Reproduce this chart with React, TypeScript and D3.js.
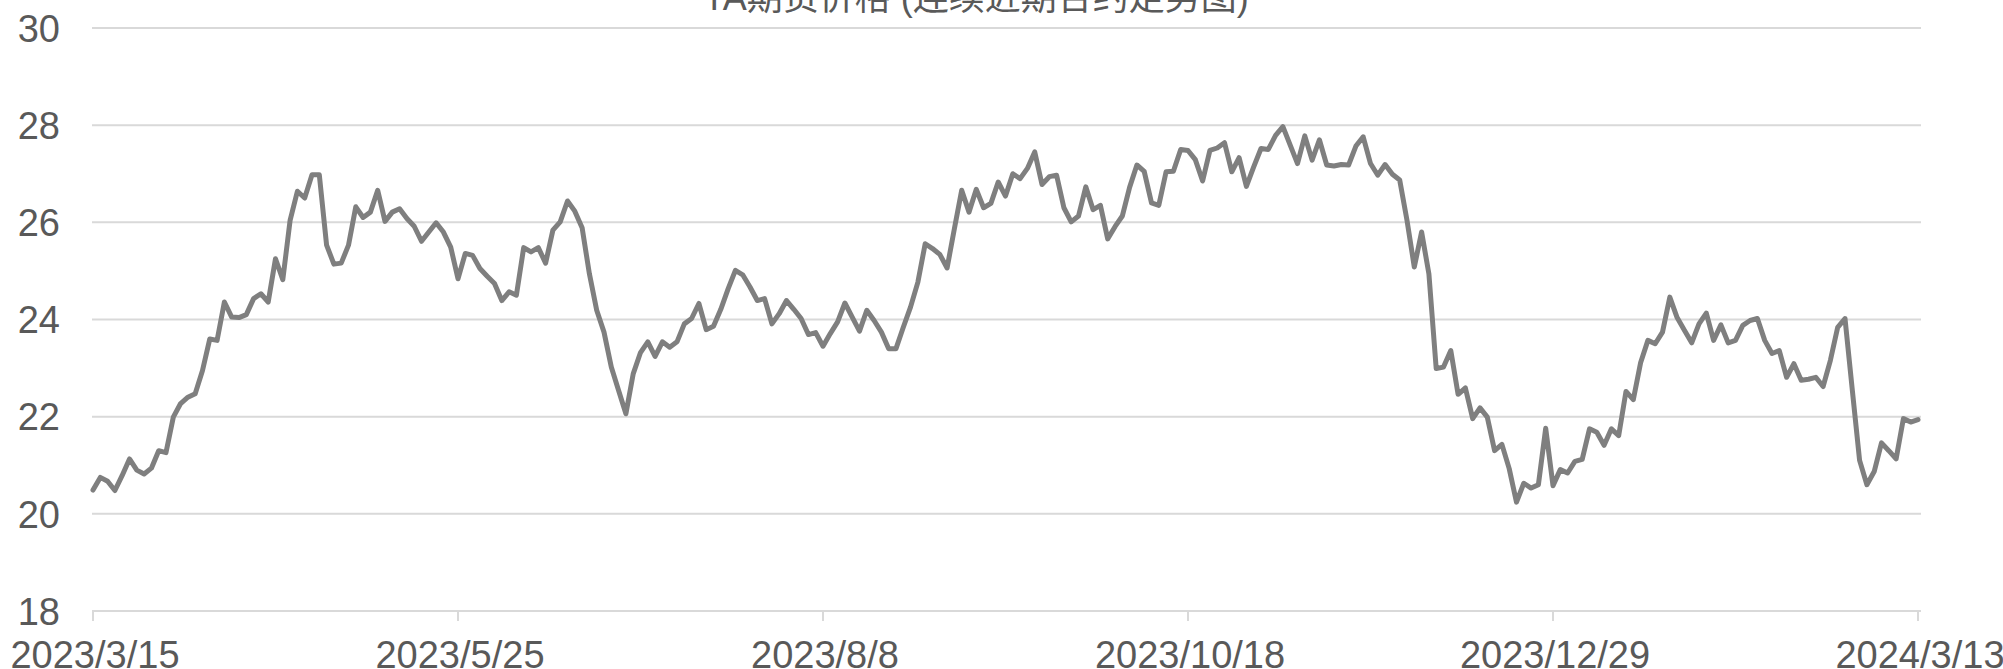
import React from "react";
import * as d3 from "d3";

const title = "TA期货价格 (连续近期合约走势图)";

const prices: number[] = [
  20.49, 20.75, 20.67, 20.48, 20.79, 21.13, 20.9, 20.82, 20.94, 21.3,
  21.26, 21.99, 22.27, 22.4, 22.47, 22.95, 23.6, 23.57, 24.36, 24.05,
  24.04, 24.1, 24.43, 24.53, 24.36, 25.25, 24.82, 26.04, 26.64, 26.5,
  26.98, 26.98, 25.53, 25.14, 25.16, 25.53, 26.32, 26.1, 26.21, 26.66,
  26.02, 26.21, 26.28, 26.08, 25.92, 25.61, 25.8, 25.99, 25.8, 25.49,
  24.84, 25.36, 25.32, 25.05, 24.89, 24.74, 24.39, 24.57, 24.5, 25.48,
  25.39, 25.48, 25.16,
  25.84, 26.01, 26.44, 26.23, 25.89, 24.94, 24.19, 23.74, 23.02, 22.54,
  22.06, 22.88, 23.32, 23.54, 23.24, 23.54, 23.43, 23.54, 23.91, 24.02,
  24.33, 23.79, 23.86, 24.21, 24.63, 25.01, 24.92, 24.67, 24.39, 24.43,
  23.91, 24.12, 24.39, 24.21, 24.02, 23.69, 23.73, 23.45, 23.71, 23.95,
  24.34, 24.05, 23.76, 24.19, 23.98, 23.74, 23.4, 23.4, 23.84, 24.26,
  24.77, 25.56, 25.46, 25.34, 25.06, 25.87, 26.66, 26.21, 26.68, 26.3,
  26.39, 26.83, 26.54,
  27.0, 26.9, 27.11, 27.45, 26.78, 26.94, 26.97, 26.3, 26.01, 26.13,
  26.73, 26.26, 26.35, 25.66, 25.91, 26.13, 26.72, 27.18, 27.05, 26.4,
  26.35, 27.04, 27.05, 27.5, 27.48, 27.29, 26.85, 27.48, 27.53, 27.64,
  27.04, 27.33, 26.74, 27.14, 27.52, 27.5, 27.79, 27.97, 27.59, 27.21,
  27.78, 27.28, 27.7, 27.18, 27.16, 27.19, 27.18, 27.57, 27.76, 27.21,
  26.97, 27.19, 26.99, 26.87, 26.04, 25.08, 25.8, 24.94, 22.99, 23.02,
  23.36, 22.46, 22.59,
  21.96, 22.18, 21.99, 21.3, 21.43, 20.93, 20.24, 20.63, 20.53, 20.6,
  21.76, 20.58, 20.91, 20.84, 21.08, 21.12, 21.75, 21.68, 21.41, 21.75,
  21.61, 22.52, 22.35, 23.11, 23.57, 23.5, 23.74, 24.46, 24.04, 23.78,
  23.52, 23.91, 24.13, 23.57, 23.89, 23.52, 23.57, 23.88, 23.98, 24.02,
  23.57, 23.3, 23.36, 22.81, 23.09, 22.75, 22.77, 22.81, 22.62, 23.16,
  23.84, 24.02, 22.55, 21.1, 20.6, 20.87, 21.46, 21.3, 21.13, 21.96,
  21.89, 21.94,
];

const tickIndices = [0, 50, 100, 150, 200, 250];
const tickLabels = ["2023/3/15", "2023/5/25", "2023/8/8", "2023/10/18", "2023/12/29", "2024/3/13"];
const yTicks = [18, 20, 22, 24, 26, 28, 30];

const W = 2003;
const H = 669;
const FONT = "'Liberation Sans', Arial, 'Noto Sans CJK SC', sans-serif";
const TEXT = "#595959";
const GRID = "#d9d9d9";

export default function App() {
  const x = d3.scaleLinear().domain([0, prices.length - 1]).range([93, 1918]);
  const y = d3.scaleLinear().domain([18, 30]).range([611, 28]);
  const line = d3
    .line<number>()
    .x((_, i) => x(i))
    .y((d) => y(d));
  const gridX0 = 92;
  const gridX1 = 1921;

  return (
    <svg
      width={W}
      height={H}
      style={{ position: "absolute", left: 0, top: 0, background: "#fff" }}
      fontFamily={FONT}
    >
      <rect x={0} y={0} width={W} height={H} fill="#fff" />
      <text x={976} y={10} textAnchor="middle" fontSize={36} fill={TEXT}>
        {title}
      </text>
      {yTicks.map((t) => (
        <g key={t}>
          <line x1={gridX0} x2={gridX1} y1={y(t)} y2={y(t)} stroke={GRID} strokeWidth={2} />
          <text x={60} y={y(t)} dy="0.36em" textAnchor="end" fontSize={38} fill={TEXT}>
            {t}
          </text>
        </g>
      ))}
      {tickIndices.map((ti, k) => (
        <g key={ti}>
          <line x1={x(ti)} x2={x(ti)} y1={611} y2={621} stroke={GRID} strokeWidth={2} />
          <text x={x(ti) + 2} y={668} textAnchor="middle" fontSize={38} fill={TEXT}>
            {tickLabels[k]}
          </text>
        </g>
      ))}
      <path
        d={line(prices) || ""}
        fill="none"
        stroke="#7f7f7f"
        strokeWidth={5}
        strokeLinejoin="round"
        strokeLinecap="round"
      />
    </svg>
  );
}
